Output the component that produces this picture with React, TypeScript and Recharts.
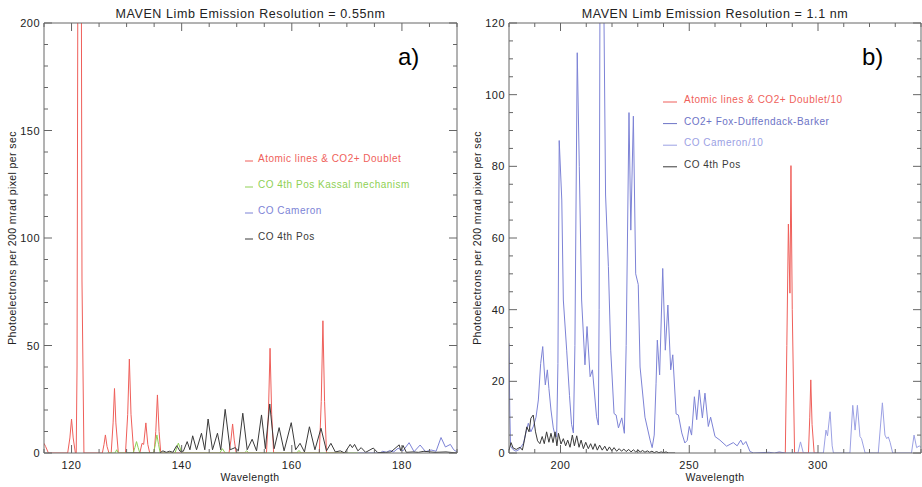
import React from 'react';
import { LineChart, Line, XAxis, YAxis } from 'recharts';

type P = [number, number];

// ---------- Panel a) : Resolution = 0.55 nm ----------
const aXTicks = [115, 120, 125, 130, 135, 140, 145, 150, 155, 160, 165, 170, 175, 180, 185, 190];
const aXMajor = [120, 140, 160, 180];
const aYTicks = [0, 10, 20, 30, 40, 50, 60, 70, 80, 90, 100, 110, 120, 130, 140, 150, 160, 170, 180, 190, 200];
const aYMajor = [0, 50, 100, 150, 200];

const aAtomic: P[] = [
  [115, 4.5], [115.3, 3], [115.8, 0], [119.3, 0], [119.7, 7], [120.0, 15.8], [120.3, 7], [120.7, 0],
  [120.85, 0], [121.0, 40], [121.45, 600], [121.9, 80], [122.25, 0],
  [125.6, 0], [125.9, 4], [126.15, 8.4], [126.45, 3], [126.8, 0],
  [127.2, 0], [127.55, 14], [127.8, 30], [128.05, 14], [128.5, 0],
  [129.8, 0], [130.2, 18], [130.5, 43.7], [130.8, 18], [131.3, 0],
  [132.4, 0], [132.8, 4.5], [133.1, 4], [133.5, 14], [133.85, 4], [134.2, 0],
  [135.0, 0], [135.3, 10], [135.6, 27], [135.9, 10], [136.2, 0],
  [148.6, 0], [148.95, 6], [149.25, 13.5], [149.55, 6], [149.9, 0],
  [155.4, 0], [155.75, 18], [156.05, 48.7], [156.35, 18], [156.7, 0],
  [165.0, 0], [165.35, 24], [165.65, 61.5], [165.95, 24], [166.3, 0], [170, 0],
];
const aKassal: P[] = [
  [126.5, 0], [127.9, 0], [128.2, 1.5], [128.5, 0],
  [131.2, 0], [131.5, 2.5], [131.8, 5.3], [132.1, 2.5], [132.4, 0],
  [134.9, 0], [135.2, 4], [135.5, 8.4], [135.8, 4], [136.1, 0],
  [138.8, 0], [139.1, 2.5], [139.4, 4.6], [139.7, 2.5], [140.0, 0],
  [146.9, 0], [147.4, 2], [147.9, 0], [151.4, 0], [151.8, 1], [152.2, 0],
  [160.9, 0], [161.3, 1.2], [161.7, 0], [172, 0],
];
const aCameron: P[] = [
  [172, 0], [176, 0], [176.5, 0.8], [177.2, 0.3], [177.8, 1.2], [178.5, 0.5], [179.3, 2.2], [180.2, 1],
  [181.3, 4.8], [182.2, 0.6], [183.3, 3.7], [184.3, 0.6], [185.3, 1.4], [186.2, 0.8], [187.1, 7.2],
  [187.9, 2.8], [188.8, 4], [189.4, 1.5], [190, 0.5],
];
const aFourthPos: P[] = [
  [130, 0], [136, 0], [136.6, 1], [137.2, 0.3], [137.8, 0.8], [138.4, 0.3], [139.1, 3.4], [139.7, 0.8],
  [140.3, 0.8], [141.0, 5.3], [141.5, 1.5], [142.0, 8], [142.7, 1.5], [143.6, 9.2], [144.2, 1.5],
  [144.8, 15.8], [145.6, 1.5], [146.5, 9.2], [147.1, 1.5], [147.9, 20.3], [148.8, 1.5], [149.7, 2.5],
  [150.3, 1], [151.1, 18.5], [151.9, 1.5], [152.8, 6.4], [153.6, 1], [154.5, 17.7], [155.2, 2],
  [156.0, 22.8], [156.8, 2], [157.7, 11.8], [158.6, 1], [159.9, 14.1], [160.7, 1.5], [161.5, 4.5],
  [162.3, 0.5], [163.2, 12.2], [164.2, 1.5], [165.3, 11.5], [166.3, 1], [167.1, 4.5], [167.9, 0.5],
  [168.8, 1], [169.6, 0], [170.6, 4], [171.0, 2.5], [171.4, 4], [172.0, 1], [172.6, 2.5], [173.4, 0.3],
  [174.8, 2.3], [175.6, 0.2], [177, 0.3], [178, 0.5], [179.5, 3.8], [179.8, 1], [180.2, 3.5], [180.8, 0.3],
  [182, 0.5], [183, 0.3], [184, 0.8], [186, 0.3], [188, 0.5], [190, 0],
];

// ---------- Panel b) : Resolution = 1.1 nm ----------
const bXTicks = [180, 190, 200, 210, 220, 230, 240, 250, 260, 270, 280, 290, 300, 310, 320, 330, 340];
const bXMajor = [200, 250, 300];
const bYTicks = [0, 5, 10, 15, 20, 25, 30, 35, 40, 45, 50, 55, 60, 65, 70, 75, 80, 85, 90, 95, 100, 105, 110, 115, 120];
const bYMajor = [0, 20, 40, 60, 80, 100, 120];

const bAtomic10: P[] = [
  [284, 0], [287.3, 0], [287.9, 30], [288.5, 63.9], [289.1, 44.6], [289.5, 80.2], [290.0, 40], [290.9, 0],
  [296.3, 0], [296.8, 10], [297.2, 20.4], [297.7, 8], [298.5, 0], [300, 0],
];
const bFDB: P[] = [
  [286, 0], [292.2, 0], [293.2, 3.1], [294.3, 0], [302.1, 0], [303.1, 6.4], [303.7, 4.8], [304.7, 11.5],
  [305.5, 2], [306, 0], [312.4, 0], [313.5, 13.3], [314.4, 6.4], [315.3, 13.3], [316.3, 4.6], [316.9, 4],
  [318.3, 0], [323.4, 0], [325.0, 14], [326.0, 5], [326.7, 4], [327.3, 4.5], [328, 3], [329, 0],
  [336.3, 0], [337.3, 5], [338.3, 1.5], [339.4, 2], [340, 1.5],
];
const bCameron10: P[] = [
  [180, 30.6], [180.3, 12], [180.6, 2], [181.5, 1], [182.7, 0.5], [184, 1], [185.6, 2.7], [186.5, 5.5],
  [187.5, 8.3], [188.5, 5.9], [189.5, 7.5], [190.5, 10], [191.4, 14.8], [192.3, 25], [193.1, 29.7],
  [193.6, 24], [194.1, 19], [194.9, 23.2], [195.5, 18], [196.3, 12], [197.2, 7], [198.0, 4.6], [198.5, 4.5],
  [199.0, 25], [199.5, 87.2], [200.5, 70.6], [201.1, 42.7], [202.4, 28.7], [203.5, 16], [204.3, 8],
  [205.0, 5.6], [205.6, 30], [206.5, 111.7], [207.3, 79.9], [208.2, 42.7], [209.5, 24.6], [210.3, 35.3],
  [211.5, 21.3], [212.4, 23.2], [214.0, 10.1], [214.7, 7.8], [215.0, 40], [215.3, 120], [216.1, 175],
  [216.9, 120], [217.5, 72], [218.6, 52], [219.5, 28.7], [220.8, 11], [221.6, 10.6], [222.5, 7],
  [223.8, 9.8], [224.8, 5.5], [225.5, 30], [226.6, 95], [227.3, 62.2], [228.3, 94], [229.2, 50],
  [230.2, 47], [230.9, 24], [232.8, 10], [234.8, 3.6], [235.6, 1.5], [236.4, 5], [237.1, 19.3],
  [237.6, 31.5], [238.5, 21.8], [239.7, 51.5], [240.7, 28.7], [241.7, 41.3], [242.8, 23.2], [243.6, 27.4],
  [244.9, 10.9], [245.8, 10.6], [247.1, 5.6], [248.3, 2.8], [249.2, 3.5], [250, 7.4], [250.9, 5],
  [252, 15.7], [252.9, 9.3], [253.9, 17.6], [255.1, 9.8], [256.1, 16.7], [257.4, 7.4], [258.3, 10],
  [260, 4.6], [261.9, 3.6], [264.5, 1.9], [267.1, 2.9], [268.6, 2], [270, 3.6], [270.9, 2.3], [272, 3.2],
  [273.6, 0.4], [275, 0], [281, 0.2], [283, 0], [285, 0.3], [287, 0],
];
const bFourthPos: P[] = [
  [180, 0.8], [180.8, 2.9], [181.6, 1.4], [182.8, 1], [184.3, 1.6], [185.2, 0.8], [186, 3.6], [186.9, 7.3],
  [187.8, 5.9], [188.5, 9.7], [189.4, 10.6], [190.3, 5.9], [191.1, 3.4], [192, 2.6], [192.9, 4.6],
  [193.7, 2.6], [194.6, 5.9], [195.5, 3], [196.3, 5.5], [197.1, 2.9], [197.9, 5.9], [198.6, 2],
  [199.2, 5.5], [200.2, 2.5], [201.1, 4], [202, 2], [202.8, 3.6], [203.7, 1.6], [204.6, 5], [205.4, 2],
  [206.3, 4.8], [207.2, 1.6], [208, 3.6], [208.9, 1.2], [209.8, 3], [210.8, 1.2], [211.7, 2.6], [212.6, 1],
  [213.4, 2.6], [214.3, 0.8], [215.2, 2.2], [216.2, 0.8], [217.2, 1.9], [218.1, 0.6], [219, 1.7],
  [219.9, 0.6], [220.8, 1.5], [221.8, 0.5], [222.8, 1.2], [223.7, 0.5], [224.6, 1.1], [225.5, 0.4],
  [226.5, 1], [227.4, 0.3], [228.3, 0.9], [229.2, 0.3], [230.1, 0.8], [231, 0.3], [231.9, 0.7],
  [232.8, 0.2], [233.7, 0.6], [234.6, 0.2], [235.5, 0.5], [236.4, 0.1], [237.3, 0.4], [238.2, 0.1],
  [239.1, 0.3], [240, 0.1], [241, 0.3], [242, 0], [244.5, 0],
];

// ---------- styling ----------
const FONT = "'Liberation Sans', Arial, Helvetica, sans-serif";
const RED = '#ef5f5a';
const GREEN = '#8fd054';
const BLUE = '#7d83d6';
const BLUE_DARK = '#6d73c6';
const BLUE_LIGHT = '#9ca1e4';
const BLACK = '#3a3a3a';
const AXIS = '#666';
const TEXT = '#222';

const toRows = (arr: P[]) => arr.map(([x, y]) => ({ x, y }));

type Side = 'bottom' | 'top' | 'left' | 'right';
function makeTick(side: Side, majors: number[], label: boolean) {
  return (props: any) => {
    const { x, y, payload } = props;
    const v = payload.value as number;
    const major = majors.includes(v);
    const len = major ? 8 : 4;
    let line: React.ReactNode = null;
    let txt: React.ReactNode = null;
    if (side === 'bottom') {
      line = <line x1={x} y1={y} x2={x} y2={y - len} stroke={AXIS} strokeWidth={1} />;
      if (label && major)
        txt = (
          <text x={x} y={y + 16} textAnchor="middle" fontSize={11} fontFamily={FONT} fill={TEXT} letterSpacing={0.5}>
            {v}
          </text>
        );
    } else if (side === 'top') {
      line = <line x1={x} y1={y} x2={x} y2={y + len} stroke={AXIS} strokeWidth={1} />;
    } else if (side === 'left') {
      line = <line x1={x} y1={y} x2={x + len} y2={y} stroke={AXIS} strokeWidth={1} />;
      if (label && major)
        txt = (
          <text x={x - 4} y={y + 4} textAnchor="end" fontSize={11} fontFamily={FONT} fill={TEXT} letterSpacing={0.5}>
            {v}
          </text>
        );
    } else {
      line = <line x1={x} y1={y} x2={x - len} y2={y} stroke={AXIS} strokeWidth={1} />;
    }
    return (
      <g>
        {line}
        {txt}
      </g>
    );
  };
}

interface SeriesDef {
  name: string;
  data: P[];
  color: string;
}

function Panel(props: {
  width: number;
  height: number;
  margin: { top: number; right: number; bottom: number; left: number };
  xDomain: [number, number];
  yDomain: [number, number];
  xTicks: number[];
  xMajor: number[];
  yTicks: number[];
  yMajor: number[];
  series: SeriesDef[];
}) {
  const { width, height, margin, xDomain, yDomain, xTicks, xMajor, yTicks, yMajor, series } = props;
  return (
    <LineChart width={width} height={height} margin={margin}>
      <XAxis
        xAxisId="b"
        orientation="bottom"
        type="number"
        dataKey="x"
        domain={xDomain}
        allowDataOverflow
        ticks={xTicks}
        interval={0}
        tickSize={0}
        tickMargin={0}
        tickLine={false}
        height={20}
        axisLine={{ stroke: AXIS }}
        tick={makeTick('bottom', xMajor, true)}
      />
      <XAxis
        xAxisId="t"
        orientation="top"
        type="number"
        dataKey="x"
        domain={xDomain}
        allowDataOverflow
        ticks={xTicks}
        interval={0}
        tickSize={0}
        tickMargin={0}
        tickLine={false}
        height={2}
        axisLine={{ stroke: AXIS }}
        tick={makeTick('top', xMajor, false)}
      />
      <YAxis
        yAxisId="l"
        orientation="left"
        type="number"
        dataKey="y"
        domain={yDomain}
        allowDataOverflow
        ticks={yTicks}
        interval={0}
        tickSize={0}
        tickMargin={0}
        tickLine={false}
        width={30}
        axisLine={{ stroke: AXIS }}
        tick={makeTick('left', yMajor, true)}
      />
      <YAxis
        yAxisId="r"
        orientation="right"
        type="number"
        dataKey="y"
        domain={yDomain}
        allowDataOverflow
        ticks={yTicks}
        interval={0}
        tickSize={0}
        tickMargin={0}
        tickLine={false}
        width={1}
        axisLine={{ stroke: AXIS }}
        tick={makeTick('right', yMajor, false)}
      />
      {series.map((s) => (
        <Line
          key={s.name}
          name={s.name}
          xAxisId="b"
          yAxisId="l"
          data={toRows(s.data)}
          dataKey="y"
          type="linear"
          stroke={s.color}
          strokeWidth={1}
          dot={false}
          activeDot={false}
          isAnimationActive={false}
        />
      ))}
    </LineChart>
  );
}

const legendA = [
  { label: 'Atomic lines & CO2+ Doublet', color: RED },
  { label: 'CO 4th Pos Kassal mechanism', color: GREEN },
  { label: 'CO Cameron', color: BLUE },
  { label: 'CO 4th Pos', color: BLACK },
];
const legendB = [
  { label: 'Atomic lines & CO2+ Doublet/10', color: RED },
  { label: 'CO2+ Fox-Duffendack-Barker', color: BLUE_DARK },
  { label: 'CO Cameron/10', color: BLUE_LIGHT },
  { label: 'CO 4th Pos', color: BLACK },
];

export default function App() {
  const yTitle = 'Photoelectrons per 200 mrad pixel per sec';
  return (
    <div style={{ position: 'absolute', left: 0, top: 0, width: 922, height: 487, background: '#fff', overflow: 'hidden' }}>
      <div style={{ position: 'absolute', left: 0, top: 0 }}>
        <Panel
          width={460}
          height={487}
          margin={{ top: 21, right: 2, bottom: 14, left: 14 }}
          xDomain={[115, 190]}
          yDomain={[0, 200]}
          xTicks={aXTicks}
          xMajor={aXMajor}
          yTicks={aYTicks}
          yMajor={aYMajor}
          series={[
            { name: 'Atomic lines & CO2+ Doublet', data: aAtomic, color: RED },
            { name: 'CO 4th Pos Kassal mechanism', data: aKassal, color: GREEN },
            { name: 'CO Cameron', data: aCameron, color: BLUE },
            { name: 'CO 4th Pos', data: aFourthPos, color: BLACK },
          ]}
        />
      </div>
      <div style={{ position: 'absolute', left: 460, top: 0 }}>
        <Panel
          width={462}
          height={487}
          margin={{ top: 21, right: 0, bottom: 14, left: 19 }}
          xDomain={[180, 340]}
          yDomain={[0, 120]}
          xTicks={bXTicks}
          xMajor={bXMajor}
          yTicks={bYTicks}
          yMajor={bYMajor}
          series={[
            { name: 'Atomic lines & CO2+ Doublet/10', data: bAtomic10, color: RED },
            { name: 'CO2+ Fox-Duffendack-Barker', data: bFDB, color: BLUE_LIGHT },
            { name: 'CO Cameron/10', data: bCameron10, color: BLUE },
            { name: 'CO 4th Pos', data: bFourthPos, color: BLACK },
          ]}
        />
      </div>
      <svg width={922} height={487} style={{ position: 'absolute', left: 0, top: 0, pointerEvents: 'none' }}>
        <g fontFamily={FONT} fill={TEXT}>
          <text x={250.5} y={18} textAnchor="middle" fontSize={12.5} letterSpacing={0.6}>
            MAVEN Limb Emission Resolution = 0.55nm
          </text>
          <text x={715} y={18} textAnchor="middle" fontSize={12.5} letterSpacing={0.6}>
            MAVEN Limb Emission Resolution = 1.1 nm
          </text>
          <text x={250} y={481} textAnchor="middle" fontSize={10.5} letterSpacing={0.4}>
            Wavelength
          </text>
          <text x={715} y={481} textAnchor="middle" fontSize={10.5} letterSpacing={0.4}>
            Wavelength
          </text>
          <text x={16} y={238} transform="rotate(-90 16 238)" textAnchor="middle" fontSize={10.5} letterSpacing={0.4}>
            {yTitle}
          </text>
          <text x={481} y={238} transform="rotate(-90 481 238)" textAnchor="middle" fontSize={10.5} letterSpacing={0.4}>
            {yTitle}
          </text>
          <text x={398} y={65} fontSize={24} fill="#000">
            a)
          </text>
          <text x={862} y={65} fontSize={24} fill="#000">
            b)
          </text>
        </g>
        <g fontFamily={FONT} fontSize={10} letterSpacing={0.5}>
          {legendA.map((l, i) => (
            <g key={l.label}>
              <line x1={245} x2={253} y1={161 + i * 26} y2={161 + i * 26} stroke={l.color} strokeWidth={1} />
              <text x={258} y={162 + i * 26} fill={l.color}>
                {l.label}
              </text>
            </g>
          ))}
          {legendB.map((l, i) => (
            <g key={l.label}>
              <line x1={663} x2={677} y1={102 + i * 21.6} y2={102 + i * 21.6} stroke={l.color} strokeWidth={1} />
              <text x={684} y={103 + i * 21.6} fill={l.color}>
                {l.label}
              </text>
            </g>
          ))}
        </g>
      </svg>
    </div>
  );
}
